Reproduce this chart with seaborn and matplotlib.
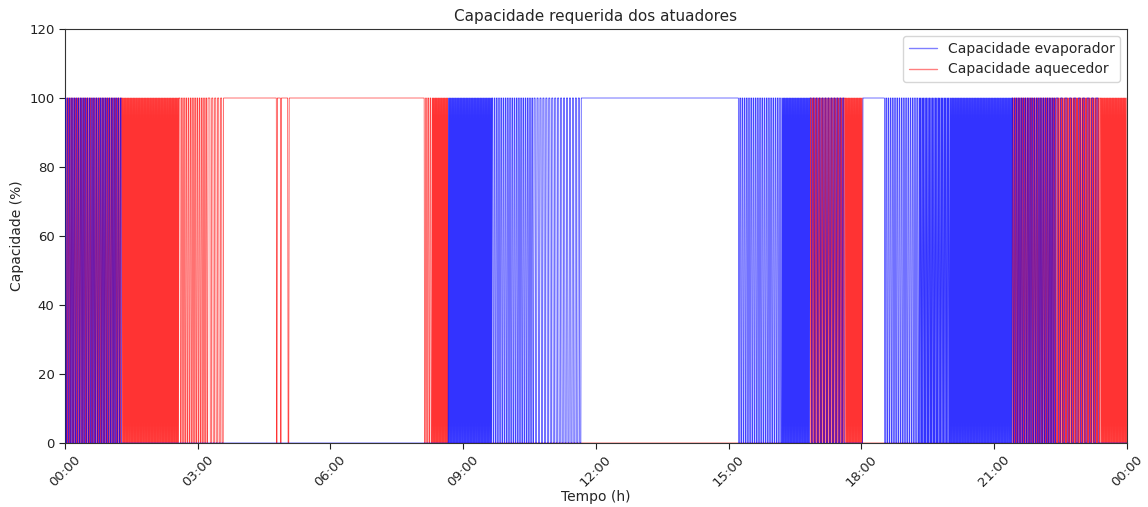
import numpy as np
import pandas as pd
import matplotlib
matplotlib.use("Agg")
import matplotlib.pyplot as plt
import seaborn as sns

# Operating schedule of each actuator over one day.
# Each segment: start hour, end hour, mode and phase lag (minutes):
#   "on"  -> held at 100 %, "off" -> held at 0 %,
#   number -> on/off cycling with that period in minutes (half on, half off)
evap_start = [0.00, 1.29, 8.66, 9.65, 10.60, 11.70, 15.20, 16.20, 16.84, 17.63, 18.03, 18.50, 19.30, 20.00, 21.40, 22.40, 23.40]
evap_end   = [1.29, 8.66, 9.65, 10.60, 11.70, 15.20, 16.20, 16.84, 17.63, 18.03, 18.50, 19.30, 20.00, 21.40, 22.40, 23.40, 24.00]
evap_mode  = [3, "off", 1, 3, 4, "on", 3, 1, 4, "off", "on", 3, 2, 1, 3, 6, "off"]
evap_phase = [0, 0, 0, 0, 0, 0, 0, 0, 0, 0, 0, 0, 0, 0, 0, 0, 0]

heat_start = [0.00, 1.29, 2.58, 3.25, 3.60, 8.10, 8.30, 8.66, 16.84, 17.63, 18.03, 21.40, 22.40, 23.40]
heat_end   = [1.29, 2.58, 3.25, 3.60, 8.10, 8.30, 8.66, 16.84, 17.63, 18.03, 21.40, 22.40, 23.40, 24.00]
heat_mode  = [2, 1, 3, 4, "on", 3, 1, "off", 2, 1, "off", 2, 2, 1]
heat_phase = [0.5, 0, 0, 0, 0, 0, 0, 0, 0.5, 0, 0, 0.5, 1.0, 0]

# Short heater interruptions while it is held on (hour of each drop)
heat_drops = [4.79, 4.88, 5.05]

tick_hours = [0, 3, 6, 9, 12, 15, 18, 21, 24]
tick_labels = ["00:00", "03:00", "06:00", "09:00", "12:00", "15:00", "18:00", "21:00", "00:00"]

STEP_MIN = 0.5  # sampling interval of the controller log, minutes


def build_signal(starts, ends, modes, phases, drops=()):
    minutes = np.arange(0, 24 * 60 + STEP_MIN, STEP_MIN)
    values = np.zeros(minutes.size)
    for s, e, m, p in zip(starts, ends, modes, phases):
        s_min, e_min = round(s * 60, 6), round(e * 60, 6)
        idx = (minutes >= s_min - 1e-6) & (minutes < e_min - 1e-6)
        if m == "on":
            values[idx] = 100
        elif m == "off":
            values[idx] = 0
        else:
            phase = np.round(np.mod(minutes[idx] - s_min - p, m), 6)
            values[idx] = np.where(phase < m / 2 - 1e-6, 100, 0)
    for d in drops:
        values[np.abs(minutes - d * 60) < 0.6] = 0
    values[-1] = values[-2]
    return pd.DataFrame({"hora": minutes / 60.0, "cap": values})


evap = build_signal(evap_start, evap_end, evap_mode, evap_phase)
heat = build_signal(heat_start, heat_end, heat_mode, heat_phase, heat_drops)

sns.set_style("white")
plt.rcParams["font.family"] = ["DejaVu Sans"]
plt.rcParams["path.simplify"] = False

fig = plt.figure(figsize=(11.48, 5.07), dpi=100)
ax = fig.add_axes([0.0566, 0.1262, 0.9251, 0.8166])

sns.lineplot(data=evap, x="hora", y="cap", ax=ax, color="blue", alpha=0.8,
             linewidth=0.5, sort=False, estimator=None, zorder=3,
             label="Capacidade evaporador")
sns.lineplot(data=heat, x="hora", y="cap", ax=ax, color="red", alpha=0.8,
             linewidth=0.5, sort=False, estimator=None, zorder=2,
             label="Capacidade aquecedor")

ax.set_xlim(0, 24)
ax.set_ylim(0, 120)
ax.set_yticks(range(0, 121, 20))
ax.set_xticks(tick_hours)
ax.set_xticklabels(tick_labels, rotation=45)
ax.tick_params(axis="both", which="major", length=4, width=0.8, direction="out",
               bottom=True, left=True, labelsize=9.5, colors="#222222")
for sp in ax.spines.values():
    sp.set_color("#333333")
    sp.set_linewidth(0.8)

ax.set_title("Capacidade requerida dos atuadores", fontsize=11)
ax.set_xlabel("Tempo (h)", fontsize=10, labelpad=0)
ax.set_ylabel("Capacidade (%)", fontsize=10)
leg = ax.legend(loc="upper right", fontsize=10, frameon=True)
for line in leg.get_lines():
    line.set_linewidth(1.0)
    line.set_alpha(0.5)

fig.savefig("out.png", dpi=100)
